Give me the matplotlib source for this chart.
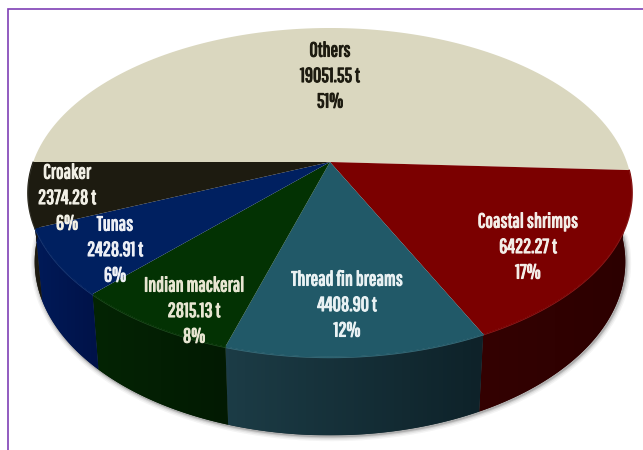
import numpy as np
import matplotlib
matplotlib.use('Agg')
import matplotlib.pyplot as plt
import matplotlib.patheffects as pe
from matplotlib.colors import LinearSegmentedColormap

# landings by group, drawn clockwise from the left-hand side of the pie
names = ['Others', 'Coastal shrimps', 'Thread fin breams', 'Indian mackeral', 'Tunas', 'Croaker']
tonnes = [19051.55, 6422.27, 4408.90, 2815.13, 2428.91, 2374.28]

top_colors = ['#DAD7BF', '#7B0000', '#215968', '#033203', '#002060', '#1D1B10']
side_light = ['#C4C0A8', '#340202', '#1C3C46', '#042404', '#001A58', '#26231A']
side_dark = ['#C4C0A8', '#2C0000', '#0E2229', '#021A02', '#001248', '#17150C']
text_colors = ['#1D1B10', '#F4EEE8', '#EAF2F4', '#E8E6D2', '#EEF0F6', '#F2F0E6']
label_xy = [(330, 51), (528, 222), (347, 280), (194, 286), (115, 225), (67, 173)]
label_font = ['Pathway Gothic One', 'Antonio', 'Liberation Sans']

# perspective disc: apex in pixels and projection constants
CX, CY = 330, 162
A, B, K = 296.8, 158.8, 0.185
DEPTH, SHRINK = 70, 0.022


def top_rim(deg):
    t = np.radians(deg)
    u, v = np.cos(t), np.sin(t)
    w = 1 + K * v
    return CX + A * u / w, CY - B * v / w


def bottom_rim(deg):
    t = np.radians(deg)
    u, v = np.cos(t), np.sin(t)
    w = 1 + K * v + SHRINK
    return CX + A * u / w, CY - (B * v - DEPTH) / w


fig, ax = plt.subplots(figsize=(6.43, 4.5), dpi=100)
ax.set_position([0, 0, 1, 1])

# purple frame, only the top and left edges fall inside the canvas
ax.plot([8, 8, 650], [460, 9, 9], color='#7F3FB5', lw=1.2, solid_joinstyle='miter', zorder=1)

fractions = np.array(tonnes) / sum(tonnes)
edges = 180 - np.concatenate([[0], np.cumsum(fractions)]) * 360

# soft shadow under the front wall
arc = np.linspace(-2, -180, 200)
sx, sy = bottom_rim(arc)
for lw, alpha in [(7, 0.05), (5, 0.08), (3, 0.12), (1.5, 0.2)]:
    ax.plot(sx + 1, sy + 1, color='#303030', lw=lw, alpha=alpha, zorder=1.5,
            solid_capstyle='round')

# front wall: flat polygon for a clean outline, clipped gradient on top of it
for i in range(1, len(names)):
    s = np.linspace(edges[i], edges[i + 1], 80)
    tx, ty = top_rim(s)
    bx, by = bottom_rim(s)
    wall = ax.fill(np.r_[tx, bx[::-1]], np.r_[ty, by[::-1]], facecolor=side_dark[i],
                   edgecolor='none', zorder=2)[0]
    cmap = LinearSegmentedColormap.from_list('wall', [side_light[i], side_dark[i]])
    xr = np.r_[tx, bx]
    yr = np.r_[ty, by]
    im = ax.imshow(np.linspace(0, 1, 64)[None, :], cmap=cmap, aspect='auto', zorder=2.1,
                   extent=[xr.min(), xr.max(), yr.max(), yr.min()])
    im.set_clip_path(wall)

# top face
for i in range(len(names)):
    s = np.linspace(edges[i], edges[i + 1], 120)
    rx, ry = top_rim(s)
    ax.fill(np.r_[CX, rx], np.r_[CY, ry], facecolor=top_colors[i],
            edgecolor='none', zorder=3)
    if i > 0:
        # small bevel along the rim
        ax.plot(rx, ry + 0.5, color=top_colors[i], lw=1.2, zorder=3.1)
        ax.plot(rx, ry + 1, color='white', lw=0.5, alpha=0.12, zorder=3.2)

# three-line labels: name, tonnage, share
pitch = 25.5
for i, name in enumerate(names):
    x, y = label_xy[i]
    lines = [name, f'{tonnes[i]:.2f} t', f'{fractions[i] * 100:.0f}%']
    for n, line in enumerate(lines):
        # thin stroke in the text colour gives the heavy condensed look
        ax.text(x, y + n * pitch, line, ha='center', va='center', fontsize=14.5,
                family=label_font, fontweight='bold', color=text_colors[i], zorder=5,
                path_effects=[pe.withStroke(linewidth=0.8, foreground=text_colors[i])])

ax.set_xlim(0, 643)
ax.set_ylim(450, 0)
ax.axis('off')
fig.patch.set_facecolor('white')
fig.savefig('out.png', dpi=100, facecolor='white')
